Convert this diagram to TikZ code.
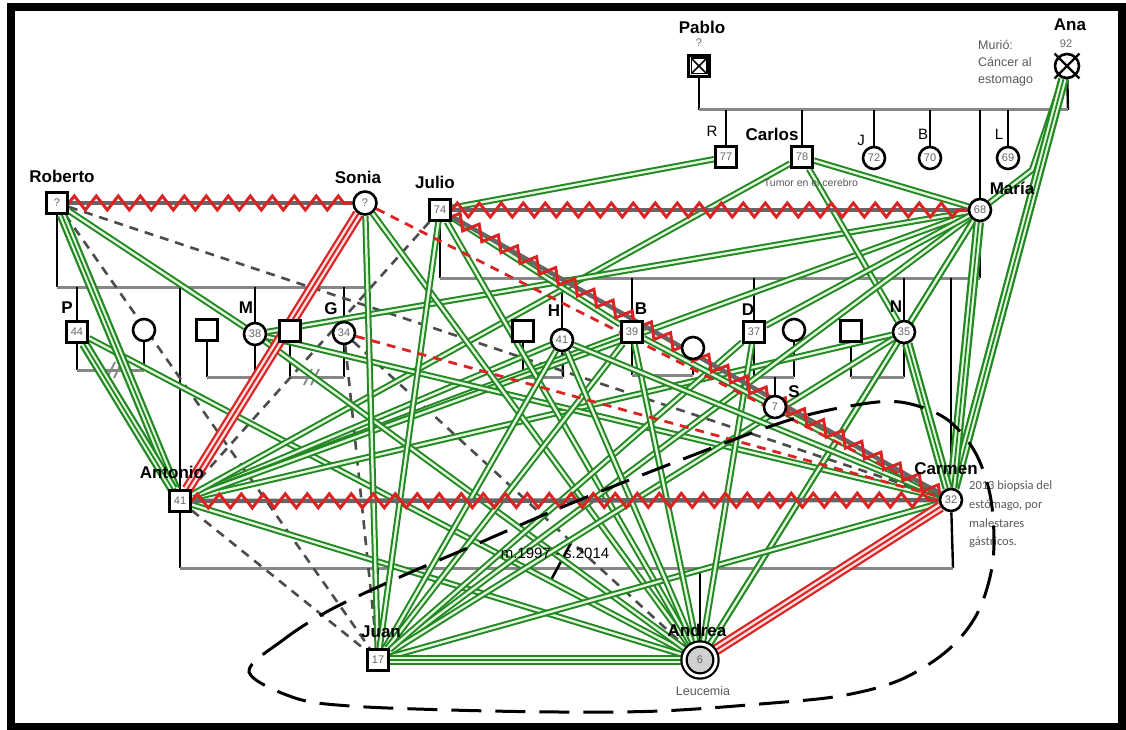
\documentclass[tikz,border=0pt]{standalone}
\usepackage{fontspec}
\setmainfont{Liberation Sans}
\newfontfamily\notefont{Carlito}
\usetikzlibrary{backgrounds,decorations.pathmorphing}

\definecolor{relgreen}{RGB}{35,135,35}
\definecolor{relred}{RGB}{220,35,35}
\definecolor{palegreen}{RGB}{225,248,220}
\definecolor{famgray}{RGB}{135,135,135}

\tikzset{
  male/.style={draw, rectangle, line width=2.6pt, minimum size=21pt, inner sep=0pt,
    fill=white, text=black!60, font=\fontsize{11}{11}\selectfont},
  female/.style={draw, circle, line width=2.6pt, minimum size=22pt, inner sep=0pt,
    fill=white, text=black!60, font=\fontsize{11}{11}\selectfont},
  lbl/.style={font=\bfseries\fontsize{17}{17}\selectfont},
  ltr/.style={font=\fontsize{15}{15}\selectfont},
  note/.style={text=black!65, font=\fontsize{12.5}{17}\selectfont, align=left},
  desc/.style={line width=2.4pt},
  fam/.style={draw=famgray, line width=3pt},
  closerel/.style={draw=relgreen, line width=2pt, double=palegreen, double distance=2.4pt},
  fusedrel/.style={draw=palegreen, line width=6pt, preaction={draw=relgreen, line width=10.5pt},
    postaction={draw=relgreen, line width=1.8pt}},
  hostilerel/.style={draw=white!85!relred, line width=7pt, preaction={draw=relred, line width=11.5pt},
    postaction={draw=relred, line width=2pt}},
  distantrel/.style={draw=black!70, line width=2.6pt, dash pattern=on 9pt off 7pt},
  tenserel/.style={draw=relred, line width=2.8pt, dash pattern=on 9pt off 7pt},
  conflictbase/.style={draw=black!60, line width=4.5pt},
  zigrel/.style={draw=relred, line width=3pt, decorate,
    decoration={zigzag, segment length=22pt, amplitude=7pt}},
}

\begin{document}
\begin{tikzpicture}[x=1pt, y=-1pt]
\useasboundingbox (0,0) rectangle (1126,730);
% Rahmen
\draw[line width=8pt] (11,7.5) rectangle (1122,727);

% Personen: Großeltern
\node[male]   (Pablo) at (699,66)  {};
\node[female, minimum size=24pt] (Ana) at (1067,66) {};
\draw[line width=1.4pt] ([shift={(4,4)}]Pablo.north west) rectangle ([shift={(-4,-4)}]Pablo.south east);
\draw[line width=1.6pt] ([shift={(4,4)}]Pablo.north west) -- ([shift={(-4,-4)}]Pablo.south east);
\draw[line width=1.6pt] ([shift={(-4,4)}]Pablo.north east) -- ([shift={(4,-4)}]Pablo.south west);
\draw[line width=2.4pt] ([shift={(-3,-3)}]Ana.north west) -- ([shift={(3,3)}]Ana.south east);
\draw[line width=2.4pt] ([shift={(3,-3)}]Ana.north east) -- ([shift={(-3,3)}]Ana.south west);

% Personen: Kinder von Pablo und Ana
\node[male]   (R)      at (726,157)  {77};
\node[male]   (Carlos) at (802,157)  {78};
\node[female] (J)      at (874,158)  {72};
\node[female] (Bse)    at (930,158)  {70};
\node[female] (Maria)  at (980,210)  {68};
\node[female] (L)      at (1008,158) {69};

% Personen: Eltern-Generation
\node[male]   (Roberto) at (57,203)  {?};
\node[female, minimum size=23pt] (Sonia) at (365,203) {?};
\node[male]   (Julio)   at (440,210) {74};

% Personen: Geschwister
\node[male]   (P)   at (77,332)  {44};
\node[female] (Pw)  at (144,330) {};
\node[male]   (Mh)  at (207,330) {};
\node[female] (M)   at (255,334) {38};
\node[male]   (Gh)  at (290,331) {};
\node[female] (G)   at (344,333) {34};
\node[male]   (Hh)  at (523,331) {};
\node[female] (H)   at (562,340) {41};
\node[male]   (Bbr) at (632,332) {39};
\node[female] (Bw)  at (693,348) {};
\node[male]   (D)   at (754,332) {37};
\node[female] (Dw)  at (794,330) {};
\node[female] (S)   at (775,407) {7};
\node[male]   (Nh)  at (851,331) {};
\node[female] (N)   at (904,332) {35};

\node[male]   (Antonio) at (180,501) {41};
\node[female] (Carmen)  at (951,500) {32};

% Personen: Kinder von Antonio und Carmen
\node[male]   (Juan)   at (378,660) {17};
\node[female, double, double distance=3pt, line width=2.2pt, minimum size=32pt,
      fill=black!18] (Andrea) at (700,660) {6};

% Namen
\node[lbl] (lPablo)   at (702,27)  {Pablo};
\node[font=\fontsize{11}{11}\selectfont, text=black!60] (aPablo) at (699,43) {?};
\node[lbl] (lAna)     at (1070,25) {Ana};
\node[font=\fontsize{11}{11}\selectfont, text=black!60] (aAna) at (1066,44) {92};
\node[note, anchor=north west, inner sep=0pt] (nAna) at (978,40) {Murió:\\Cáncer al\\estomago};
\node[ltr] (lR)       at (712,131) {R};
\node[lbl] (lCarlos)  at (772,134) {Carlos};
\node[font=\fontsize{10.5}{10.5}\selectfont, text=black!65] (nCarlos) at (811,183) {Tumor en el cerebro};
\node[ltr] (lJ)       at (861,140) {J};
\node[ltr] (lBse)     at (923,134) {B};
\node[ltr] (lL)       at (999,134) {L};
\node[lbl] (lMaria)   at (1012,188) {María};
\node[lbl] (lRoberto) at (62,176)  {Roberto};
\node[lbl] (lSonia)   at (358,177) {Sonia};
\node[lbl] (lJulio)   at (435,182) {Julio};
\node[lbl] (lP)       at (67,308)  {P};
\node[lbl] (lM)       at (246,308) {M};
\node[lbl] (lG)       at (331,309) {G};
\node[lbl] (lH)       at (554,311) {H};
\node[lbl] (lBbr)     at (641,309) {B};
\node[lbl] (lD)       at (748,310) {D};
\node[lbl] (lS)       at (794,392) {S};
\node[lbl] (lN)       at (896,307) {N};
\node[lbl] (lAntonio) at (172,472) {Antonio};
\node[lbl] (lCarmen)  at (946,469) {Carmen};
\node[lbl] (lJuan)    at (381,632) {Juan};
\node[lbl] (lAndrea)  at (697,630) {Andrea};
\node[note] (nAndrea) at (703,691) {Leucemia};
\node[font=\fontsize{15}{15}\selectfont] (ehe) at (555,553) {m.1997 - s.2014};
\node[note, font=\notefont\fontsize{12.5}{18.7}\selectfont, anchor=north west, inner sep=0pt]
  (nCarmen) at (969,481) {2013 biopsia del\\estómago, por\\malestares\\gástricos.};

% Familienlinien
\coordinate (pa1) at (699,110);  \coordinate (pa2) at (1068,110);
\coordinate (rs1) at (57,287);   \coordinate (rs2) at (365,287);
\coordinate (jm1) at (440,278);  \coordinate (jm2) at (980,278);
\coordinate (ac1) at (180,568);  \coordinate (ac2) at (953,568);
\coordinate (pp1) at (77,370);   \coordinate (pp2) at (144,370);
\coordinate (mm1) at (207,377);  \coordinate (mm2) at (255,377);
\coordinate (gg1) at (290,377);  \coordinate (gg2) at (344,377);
\coordinate (hh1) at (523,377);  \coordinate (hh2) at (563,377);
\coordinate (bb1) at (632,375);  \coordinate (bb2) at (693,375);
\coordinate (dd1) at (754,377);  \coordinate (dd2) at (794,377);
\coordinate (nn1) at (851,377);  \coordinate (nn2) at (904,377);
\coordinate (knick) at (1032,170);

\begin{scope}[on background layer]
\draw[desc] (Pablo) -- (pa1);  \draw[desc] (Ana) -- (pa2);  \draw[fam] (pa1) -- (pa2);
\draw[desc] (R) -- (R |- pa1);
\draw[desc] (Carlos) -- (Carlos |- pa1);
\draw[desc] (J) -- (J |- pa1);
\draw[desc] (Bse) -- (Bse |- pa1);
\draw[desc] (Maria) -- (Maria |- pa1);
\draw[desc] (L) -- (L |- pa1);

\draw[desc] (Roberto) -- (rs1);  \draw[desc] (Sonia) -- (rs2);  \draw[fam] (rs1) -- (rs2);
\draw[desc] (P) -- (P |- rs1);
\draw[desc] (Antonio) -- (Antonio |- rs1);
\draw[desc] (M) -- (M |- rs1);
\draw[desc] (G) -- (G |- rs1);

\draw[desc] (Julio) -- (jm1);  \draw[desc] (Maria) -- (jm2);  \draw[fam] (jm1) -- (jm2);
\draw[desc] (H) -- (H |- jm1);
\draw[desc] (Bbr) -- (Bbr |- jm1);
\draw[desc] (D) -- (D |- jm1);
\draw[desc] (N) -- (N |- jm1);
\draw[desc] (Carmen) -- (Carmen |- jm1);

\draw[desc] (P) -- (pp1);    \draw[desc] (Pw) -- (pp2);  \draw[fam] (pp1) -- (pp2);
\draw[desc] (Mh) -- (mm1);   \draw[desc] (M) -- (mm2);   \draw[fam] (mm1) -- (mm2);
\draw[desc] (Gh) -- (gg1);   \draw[desc] (G) -- (gg2);   \draw[fam] (gg1) -- (gg2);
\draw[desc] (Hh) -- (hh1);   \draw[desc] (H) -- (hh2);   \draw[fam] (hh1) -- (hh2);
\draw[desc] (Bbr) -- (bb1);  \draw[desc] (Bw) -- (bb2);  \draw[fam] (bb1) -- (bb2);
\draw[desc] (D) -- (dd1);    \draw[desc] (Dw) -- (dd2);  \draw[fam] (dd1) -- (dd2);
\draw[desc] (S) -- (S |- dd1);
\draw[desc] (Nh) -- (nn1);   \draw[desc] (N) -- (nn2);   \draw[fam] (nn1) -- (nn2);

\draw[desc] (Antonio) -- (ac1);  \draw[desc] (Carmen) -- (ac2);  \draw[fam] (ac1) -- (ac2);
\draw[desc] (Juan) -- (Juan |- ac1);
\draw[desc] (Andrea) -- (Andrea |- ac1);

% Scheidung / Trennung
\draw[fam, line width=2pt] (107,378) -- (115,362);
\draw[fam, line width=2pt] (114,378) -- (122,362);
\draw[fam, line width=2pt] (304,385) -- (312,369);
\draw[fam, line width=2pt] (311,385) -- (319,369);
\draw[line width=2.6pt] (551,580) -- (571,543);

% Beziehungen: distanziert
\draw[distantrel] (Roberto) -- (Juan);
\draw[distantrel] (Roberto) -- (Carmen);
\draw[distantrel] (Antonio) -- (Juan);
\draw[distantrel] (Julio) -- (Antonio);
\draw[distantrel] (G) -- (Juan);
\draw[distantrel] (G) -- (Andrea);

% Beziehungen: eng
\draw[closerel] (Roberto) -- (M);
\draw[closerel] (P) -- (Andrea);
\draw[closerel] (Antonio) -- (H);
\draw[closerel] (Antonio) -- (Bbr);
\draw[closerel] (Antonio) -- (N);
\draw[closerel] (Antonio) -- (Maria);
\draw[closerel] (Antonio) -- (Carlos);
\draw[closerel] (Antonio) -- (Andrea);
\draw[closerel] (M) -- (Andrea);
\draw[closerel] (M) -- (Carmen);
\draw[closerel] (M) -- (Maria);
\draw[closerel] (Sonia) -- (Juan);
\draw[closerel] (Sonia) -- (Andrea);
\draw[closerel] (Julio) -- (Juan);
\draw[closerel] (Julio) -- (Andrea);
\draw[closerel] (Julio) -- (Bbr);
\draw[closerel] (Julio) -- (R);
\draw[closerel] (Carlos) -- (Maria);
\draw[closerel] (Carlos) -- (N);
\draw[closerel] (Ana) -- (knick) -- (Maria);
\draw[closerel] (Maria) -- (Juan);
\draw[closerel] (Maria) -- (Andrea);
\draw[closerel] (Maria) -- (N);
\draw[closerel] (Maria) -- (D);
\draw[closerel] (N) -- (Juan);
\draw[closerel] (N) -- (Andrea);
\draw[closerel] (Juan) -- (H);
\draw[closerel] (Juan) -- (Bbr);
\draw[closerel] (Juan) -- (D);
\draw[closerel] (Juan) -- (Carmen);
\draw[closerel] (Andrea) -- (H);
\draw[closerel] (Andrea) -- (Bbr);
\draw[closerel] (Andrea) -- (D);
\draw[closerel] (Carmen) -- (H);
\draw[closerel] (Carmen) -- (Bbr);

% Beziehungen: sehr eng
\draw[fusedrel] (Roberto) -- (Antonio);
\draw[fusedrel] (P) -- (Antonio);
\draw[fusedrel] (Ana) -- (Carmen);
\draw[fusedrel] (Maria) -- (Carmen);
\draw[fusedrel] (N) -- (Carmen);
\draw[fusedrel] (Juan) -- (Andrea);

% Beziehungen: feindlich
\draw[hostilerel] (Sonia) -- (Antonio);
\draw[hostilerel] (Andrea) -- (Carmen);
\draw[tenserel] (Sonia) -- (Carmen);
\draw[tenserel] (G) -- (Carmen);

% Beziehungen: Konflikt
\draw[conflictbase] (Roberto) -- (Sonia);
\draw[zigrel] (Roberto) -- (Sonia);
\draw[conflictbase] (Julio) -- (Maria);
\draw[zigrel] (Julio) -- (Maria);
\draw[conflictbase] (Antonio) -- (Carmen);
\draw[zigrel] (Antonio) -- (Carmen);
\draw[conflictbase] (Julio) -- (Carmen);
\draw[zigrel] (Julio) -- (Carmen);
\end{scope}

% Haushalt (gestrichelte Umrandung)
\draw[line width=3pt, dash pattern=on 30pt off 14pt] plot[smooth cycle, tension=0.55] coordinates {
  (249,672) (283,640) (330,610) (400,577) (470,547) (560,508) (660,468) (780,423)
  (850,406) (900,402) (945,418) (975,452) (991,500) (993,560) (978,612) (948,650)
  (900,680) (840,696) (760,704) (660,711) (560,712) (450,710) (350,706) (295,698)};

\end{tikzpicture}
\end{document}
